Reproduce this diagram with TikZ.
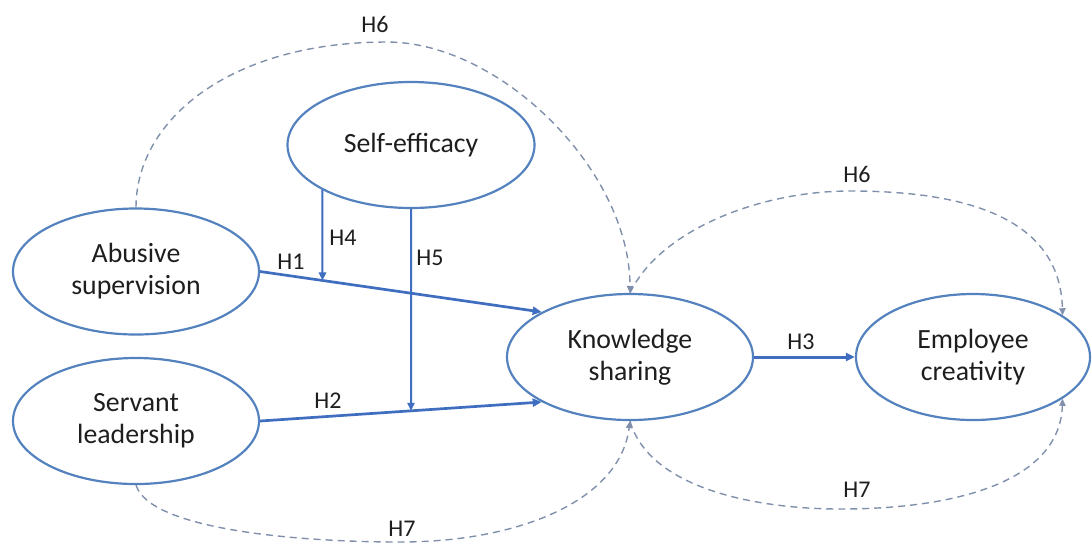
\documentclass[tikz,border=0pt]{standalone}
\usepackage{fontspec}
\setmainfont{Carlito}
\usetikzlibrary{shapes.geometric,arrows.meta,intersections}
\definecolor{rim}{HTML}{5482BE}
\definecolor{link}{HTML}{3F6DC0}
\definecolor{medline}{HTML}{8090AC}
\definecolor{ink}{HTML}{1E1E1E}
\begin{document}
\begin{tikzpicture}[x=0.5pt,y=-0.5pt,
  construct/.style={ellipse, draw=rim, line width=1.1pt, inner sep=0pt,
    minimum width=123pt, minimum height=63pt, align=center,
    font=\fontsize{13.9}{16}\selectfont, text=ink},
  effect/.style={draw=link, line width=1.35pt, -{Triangle[length=4.5pt,width=4pt]}},
  moderation/.style={draw=link, line width=1pt, -{Triangle[length=4pt,width=3.6pt]}},
  mediation/.style={draw=medline, line width=0.7pt, dash pattern=on 3.5pt off 2.5pt,
    -{Triangle[length=3.5pt,width=3.2pt]}},
  hyp/.style={font=\fontsize{12}{14}\selectfont, text=ink, inner sep=1pt}]
\useasboundingbox (0,0) rectangle (1092,543);

% constructs
\node[construct] (abs) at (136,271.5) {Abusive\\supervision};
\node[construct] (serv) at (136,421) {Servant\\leadership};
\node[construct, minimum width=123.5pt] (self) at (411,145) {Self-efficacy};
\node[construct] (ks) at (630,357) {Knowledge\\sharing};
\node[construct, minimum width=117pt] (ec) at (973,357) {Employee\\creativity};

% direct effects
\draw[effect, name path=h1] (abs.east) -- (ks.153);
\draw[effect, name path=h2] (serv.east) -- (ks.207);
\draw[effect, line width=1.5pt] (ks.east) -- (ec.west);

% moderating paths of self-efficacy
\path[name path=v4] (self.207) -- ++(0,200);
\path[name path=v5] (self.south) -- ++(0,300);
\path[name intersections={of=h1 and v4, by=x4}];
\path[name intersections={of=h2 and v5, by=x5}];
\draw[moderation] (self.207) -- (x4);
\draw[moderation] (self.south) -- (x5);

% mediation paths
\coordinate (p6a) at (387,42);
\coordinate (p6b) at (850,191);
\coordinate (p7a) at (400,542);
\coordinate (p7b) at (840,509);
\draw[mediation] (abs.north) .. controls (136,120) and (230,42) .. (p6a)
  .. controls (500,42) and (630,170) .. (ks.north);
\draw[mediation] (ks.north) .. controls (660,230) and (760,191) .. (p6b)
  .. controls (960,191) and (1060,215) .. (ec.25);
\draw[mediation] (serv.south) .. controls (150,530) and (300,542) .. (p7a)
  .. controls (520,542) and (620,500) .. (ks.south);
\draw[mediation] (ks.south) .. controls (650,490) and (760,509) .. (p7b)
  .. controls (960,509) and (1060,480) .. (ec.335);

% hypothesis labels
\node[hyp] (l1) at (291,262) {H1};
\node[hyp] (l2) at (328,401) {H2};
\node[hyp] (l3) at (801,342) {H3};
\node[hyp] (l4) at (343,238) {H4};
\node[hyp] (l5) at (430,258) {H5};
\node[hyp] (l6a) at (375,24) {H6};
\node[hyp] (l6b) at (857,174) {H6};
\node[hyp, fill=white] (l7a) at (402,529) {H7};
\node[hyp] (l7b) at (857,490) {H7};
\end{tikzpicture}
\end{document}
